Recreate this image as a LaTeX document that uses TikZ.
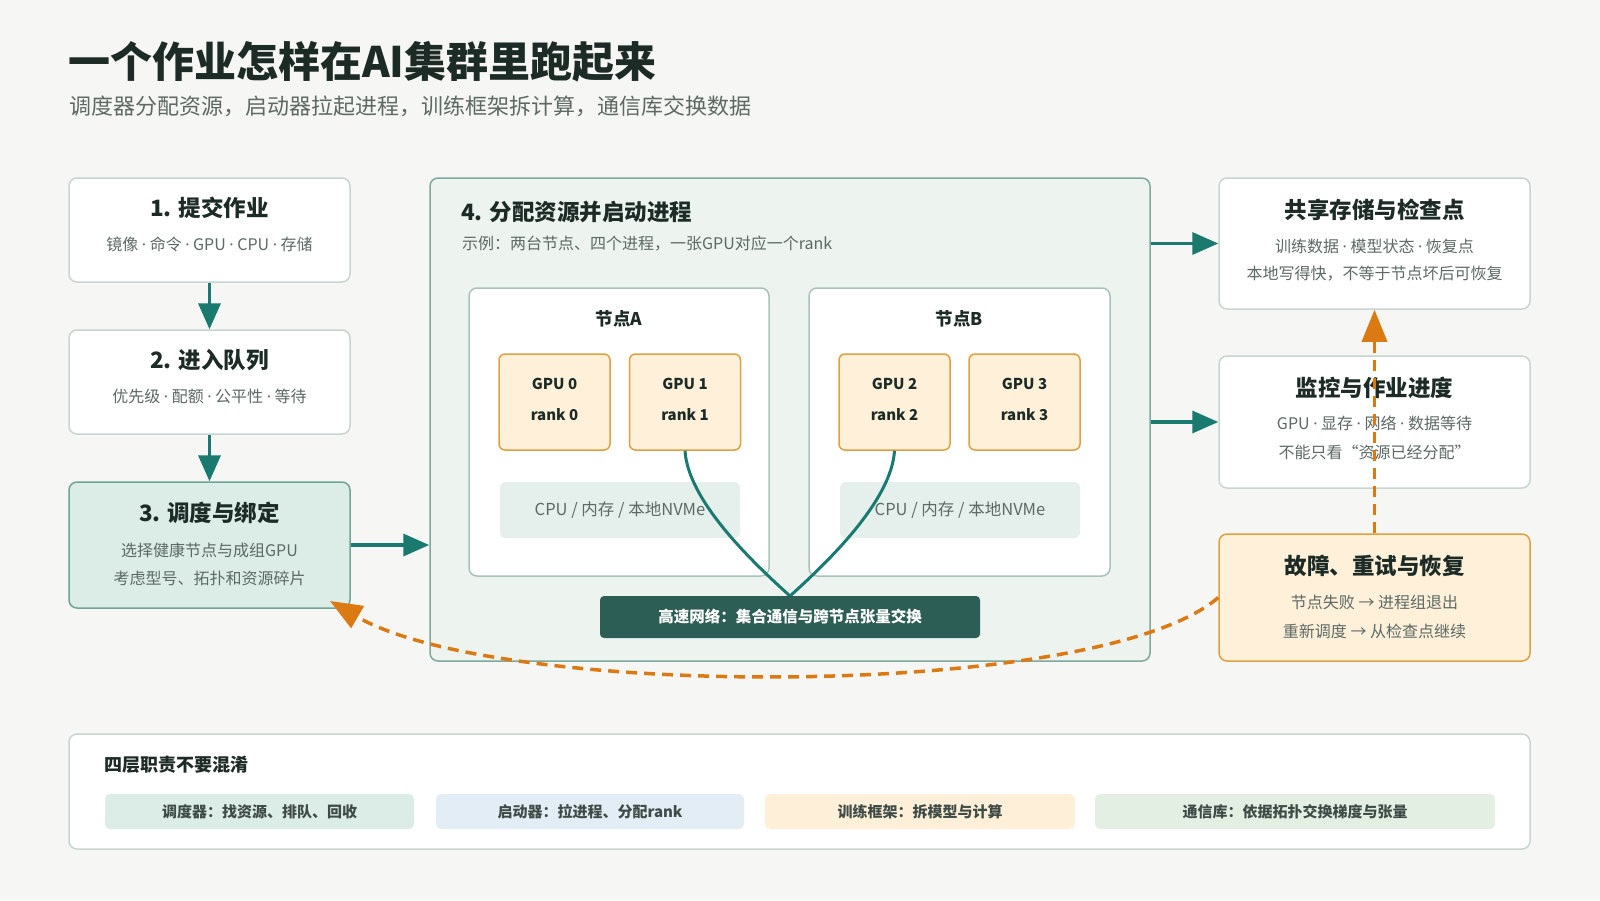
\documentclass[tikz,border=0pt]{standalone}
\usepackage{fontspec}
\setmainfont{Noto Sans CJK SC}
\newfontfamily\latinf{Noto Sans}
\newcommand{\md}{\ {\latinf ·}\ }
\usetikzlibrary{arrows.meta}
\definecolor{bg}{HTML}{F6F6F4}
\definecolor{ink}{HTML}{1D2B27}
\definecolor{muted}{HTML}{5D6964}
\definecolor{cardline}{HTML}{C8D5D1}
\definecolor{tealc}{HTML}{1A7A70}
\definecolor{orangec}{HTML}{DB7A12}
\definecolor{schedfill}{HTML}{DCECE7}
\definecolor{schedline}{HTML}{6FA597}
\definecolor{bigfill}{HTML}{EDF3EF}
\definecolor{bigline}{HTML}{7FA89F}
\definecolor{nodeline}{HTML}{A9C2BC}
\definecolor{gpufill}{HTML}{FEF0D9}
\definecolor{gpuline}{HTML}{E0A040}
\definecolor{cpufill}{HTML}{E5EFEB}
\definecolor{netfill}{HTML}{2D5E55}
\definecolor{tagA}{HTML}{DCECE7}
\definecolor{tagB}{HTML}{E3EDF6}
\definecolor{tagC}{HTML}{FEF0D8}
\definecolor{tagD}{HTML}{E3EFE3}
\begin{document}
\begin{tikzpicture}[x=1pt,y=-1pt,
  card/.style={draw=cardline, fill=white, line width=1.5pt, rounded corners=8pt, inner sep=0pt},
  ttl/.style={font=\bfseries\fontsize{22.5}{26}\selectfont, text=ink, inner sep=0pt},
  sub/.style={font=\fontsize{16}{19}\selectfont, text=muted, inner sep=0pt},
  gpubox/.style={draw=gpuline, fill=gpufill, line width=1.5pt, rounded corners=6pt, minimum width=111pt, minimum height=96pt, inner sep=0pt},
  gputxt/.style={font=\bfseries\fontsize{15}{18}\selectfont, text=ink, inner sep=0pt},
  cpubar/.style={fill=cpufill, rounded corners=6pt, minimum width=240pt, minimum height=56pt, inner sep=0pt, font=\fontsize{16.5}{19}\selectfont, text=muted},
  tagbox/.style={rounded corners=5pt, minimum height=35pt, inner sep=0pt, font=\bfseries\fontsize{15}{18}\selectfont, text=ink!85},
  flow/.style={draw=tealc, line width=3.5pt, -{Triangle[length=26pt,width=22pt]}},
  fb/.style={draw=orangec, line width=3.5pt, dash pattern=on 11pt off 7pt, -{Triangle[length=32pt,width=25pt]}},
  link/.style={draw=tealc, line width=3pt}
]
\useasboundingbox[fill=bg] (0,0) rectangle (1600,900);

% title
\node[anchor=west, inner sep=0pt, font=\bfseries\fontsize{42}{48}\selectfont, text=ink] (title) at (68,62) {一个作业怎样在AI集群里跑起来};
\node[anchor=west, inner sep=0pt, font=\fontsize{22}{26}\selectfont, text=muted] (subtitle) at (69,106) {调度器分配资源，启动器拉起进程，训练框架拆计算，通信库交换数据};

% left column
\node[card, minimum width=281pt, minimum height=104pt] (b1) at (209.5,230) {};
\node[ttl] (b1t) at (209.5,208) {1. 提交作业};
\node[sub] (b1s) at (209.5,244) {镜像\md 命令\md GPU\md CPU\md 存储};

\node[card, minimum width=281pt, minimum height=104pt] (b2) at (209.5,382) {};
\node[ttl] (b2t) at (209.5,360) {2. 进入队列};
\node[sub] (b2s) at (209.5,396) {优先级\md 配额\md 公平性\md 等待};

\node[card, draw=schedline, fill=schedfill, minimum width=281pt, minimum height=126pt] (b3) at (209.5,545) {};
\node[ttl] (b3t) at (209.5,513) {3. 调度与绑定};
\node[sub] (b3s) at (209.5,550) {选择健康节点与成组GPU};
\node[sub] (b3u) at (209.5,578) {考虑型号、拓扑和资源碎片};

% big box
\node[card, draw=bigline, fill=bigfill, minimum width=720pt, minimum height=483pt] (b4) at (790,419.5) {};
\node[ttl, anchor=west] (b4t) at (461,212) {4. 分配资源并启动进程};
\node[sub, anchor=west] (b4s) at (462,244) {示例：两台节点、四个进程，一张GPU对应一个rank};

\node[card, draw=nodeline, minimum width=300pt, minimum height=288pt] (na) at (619,432) {};
\node[font=\bfseries\fontsize{17.5}{20}\selectfont, text=ink, inner sep=0pt] (nal) at (619,319) {节点A};
\node[card, draw=nodeline, minimum width=301pt, minimum height=288pt] (nb) at (959.5,432) {};
\node[font=\bfseries\fontsize{17.5}{20}\selectfont, text=ink, inner sep=0pt] (nbl) at (959.5,319) {节点B};

\node[gpubox] (g0) at (554.5,402) {};
\node[gputxt] (g0a) at (554.5,384) {GPU 0};
\node[gputxt] (g0b) at (554.5,415) {rank 0};
\node[gpubox] (g1) at (685,402) {};
\node[gputxt] (g1a) at (685,384) {GPU 1};
\node[gputxt] (g1b) at (685,415) {rank 1};
\node[gpubox] (g2) at (894.5,402) {};
\node[gputxt] (g2a) at (894.5,384) {GPU 2};
\node[gputxt] (g2b) at (894.5,415) {rank 2};
\node[gpubox] (g3) at (1024.5,402) {};
\node[gputxt] (g3a) at (1024.5,384) {GPU 3};
\node[gputxt] (g3b) at (1024.5,415) {rank 3};

\node[cpubar] (ca) at (620,510) {CPU / 内存 / 本地NVMe};
\node[cpubar] (cb) at (960,510) {CPU / 内存 / 本地NVMe};

\draw[link] (g1.south) .. controls (688,500) and (750,560) .. (790,596) coordinate (meet);
\draw[link] (g2.south) .. controls (891.5,500) and (830,560) .. (meet);

\node[fill=netfill, rounded corners=4pt, minimum width=380pt, minimum height=42pt, inner sep=0pt, font=\bfseries\fontsize{15.5}{18}\selectfont, text=white] (net) at (790,617) {高速网络：集合通信与跨节点张量交换};

% right column
\node[card, minimum width=311pt, minimum height=131pt] (st) at (1374.5,243.5) {};
\node[ttl] (stt) at (1374.5,210) {共享存储与检查点};
\node[sub] (sts) at (1374.5,246) {训练数据\md 模型状态\md 恢复点};
\node[sub] (stu) at (1374.5,274) {本地写得快，不等于节点坏后可恢复};

\node[card, minimum width=311pt, minimum height=132pt] (mo) at (1374.5,422) {};
\node[ttl] (mot) at (1374.5,388) {监控与作业进度};
\node[sub] (mos) at (1374.5,423) {GPU\md 显存\md 网络\md 数据等待};
\node[sub] (mou) at (1374.5,452) {不能只看“资源已经分配”};

\node[card, draw=gpuline, fill=gpufill, minimum width=311pt, minimum height=127pt] (fa) at (1374.5,597.5) {};
\node[ttl] (fat) at (1374.5,566) {故障、重试与恢复};
\node[sub] (fas) at (1374.5,602) {节点失败 → 进程组退出};
\node[sub] (fau) at (1374.5,631) {重新调度 → 从检查点继续};

% flow arrows
\draw[flow] (b1.south) -- (b2.north);
\draw[flow] (b2.south) -- (b3.north);
\draw[flow] (b3.east) -- (b4.west |- b3.east);
\draw[flow] (b4.east |- st.west) -- (st.west);
\draw[flow] (b4.east |- mo.west) -- (mo.west);

% feedback arrows
\draw[fb] (fa.north) -- (st.south);
\draw[fb] (fa.west) .. controls (1100,700) and (500,700) .. (330,601);

% bottom legend
\node[card, minimum width=1461pt, minimum height=115pt] (leg) at (799.5,791.5) {};
\node[anchor=west, inner sep=0pt, font=\bfseries\fontsize{18}{21}\selectfont, text=ink] (legt) at (104,765) {四层职责不要混淆};
\node[tagbox, fill=tagA, minimum width=309pt] (t1) at (259.5,811.5) {调度器：找资源、排队、回收};
\node[tagbox, fill=tagB, minimum width=308pt] (t2) at (590,811.5) {启动器：拉进程、分配rank};
\node[tagbox, fill=tagC, minimum width=310pt] (t3) at (920,811.5) {训练框架：拆模型与计算};
\node[tagbox, fill=tagD, minimum width=400pt] (t4) at (1295,811.5) {通信库：依据拓扑交换梯度与张量};
\end{tikzpicture}
\end{document}
